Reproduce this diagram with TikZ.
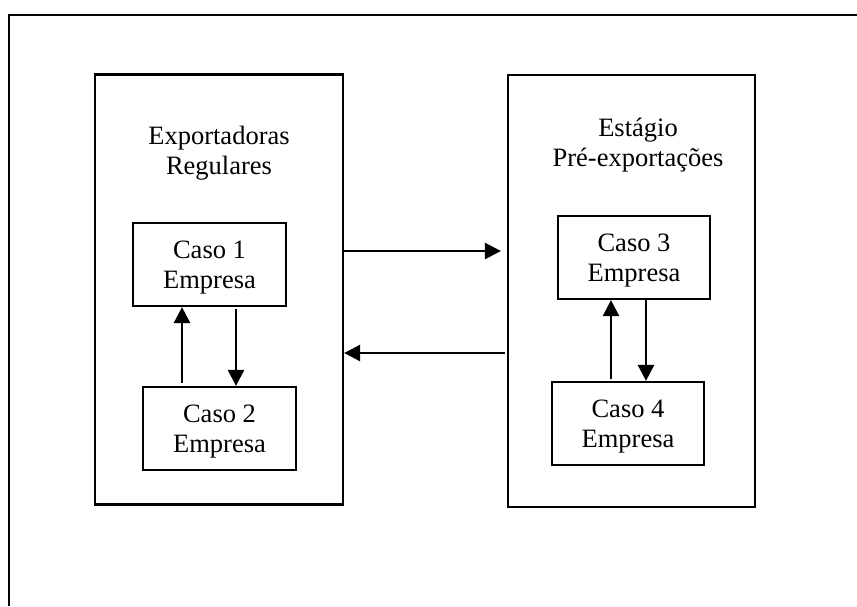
\documentclass[tikz,border=0pt]{standalone}
\usepackage{fontspec}
\setmainfont{Liberation Serif}
\usetikzlibrary{arrows.meta}
\begin{document}
\begin{tikzpicture}[x=1pt,y=-1pt,
  font=\fontsize{26.5}{30}\selectfont,
  stagebox/.style={draw,line width=2.2pt,minimum width=248pt,minimum height=430pt,inner sep=0pt},
  casebox/.style={draw,line width=2.2pt,minimum width=153pt,minimum height=83pt,inner sep=0pt,align=center,text depth=0pt},
  title/.style={align=center,inner sep=0pt},
  arr/.style={line width=2.6pt,-{Triangle[length=16pt,width=16pt]}}]
\useasboundingbox (0,0) rectangle (857,606);
% outer frame (cropped at right and bottom)
\coordinate (fbl) at (9,606);
\coordinate (ftl) at (9,15);
\coordinate (ftr) at (857,15);
\draw[line width=2.4pt] (fbl) -- (ftl) -- (ftr);
% stage boxes
\node[stagebox] (left) at (219,289.5) {};
\node[stagebox,minimum width=247pt,minimum height=432pt] (right) at (631.5,291) {};
\node[title] (lt) at (219,153) {Exportadoras\\Regulares};
\node[title] (rt) at (638,145) {Estágio\\Pré-exportações};
% case boxes
\node[casebox] (c1) at (209.5,264.5) {Caso 1\\Empresa};
\node[casebox] (c2) at (219.5,428.5) {Caso 2\\Empresa};
\node[casebox,minimum width=152pt] (c3) at (634,257.5) {Caso 3\\Empresa};
\node[casebox,minimum width=152pt] (c4) at (628,423.5) {Caso 4\\Empresa};
% arrow columns
\coordinate (u1) at (182,0);
\coordinate (d1) at (236,0);
\coordinate (u2) at (611,0);
\coordinate (d2) at (646,0);
\draw[arr] ([yshift=3pt]c2.north -| u1) -- (c1.south -| u1);
\draw[arr] ([yshift=-2pt]c1.south -| d1) -- (c2.north -| d1);
\draw[arr] ([yshift=2pt]c4.north -| u2) -- (c3.south -| u2);
\draw[arr] (c3.south -| d2) -- (c4.north -| d2);
% between stages
\coordinate (h1) at (0,251);
\coordinate (h2) at (0,353);
\draw[arr] (left.east |- h1) -- ([xshift=-6pt]right.west |- h1);
\draw[arr] ([xshift=-2pt]right.west |- h2) -- (left.east |- h2);
\end{tikzpicture}
\end{document}
